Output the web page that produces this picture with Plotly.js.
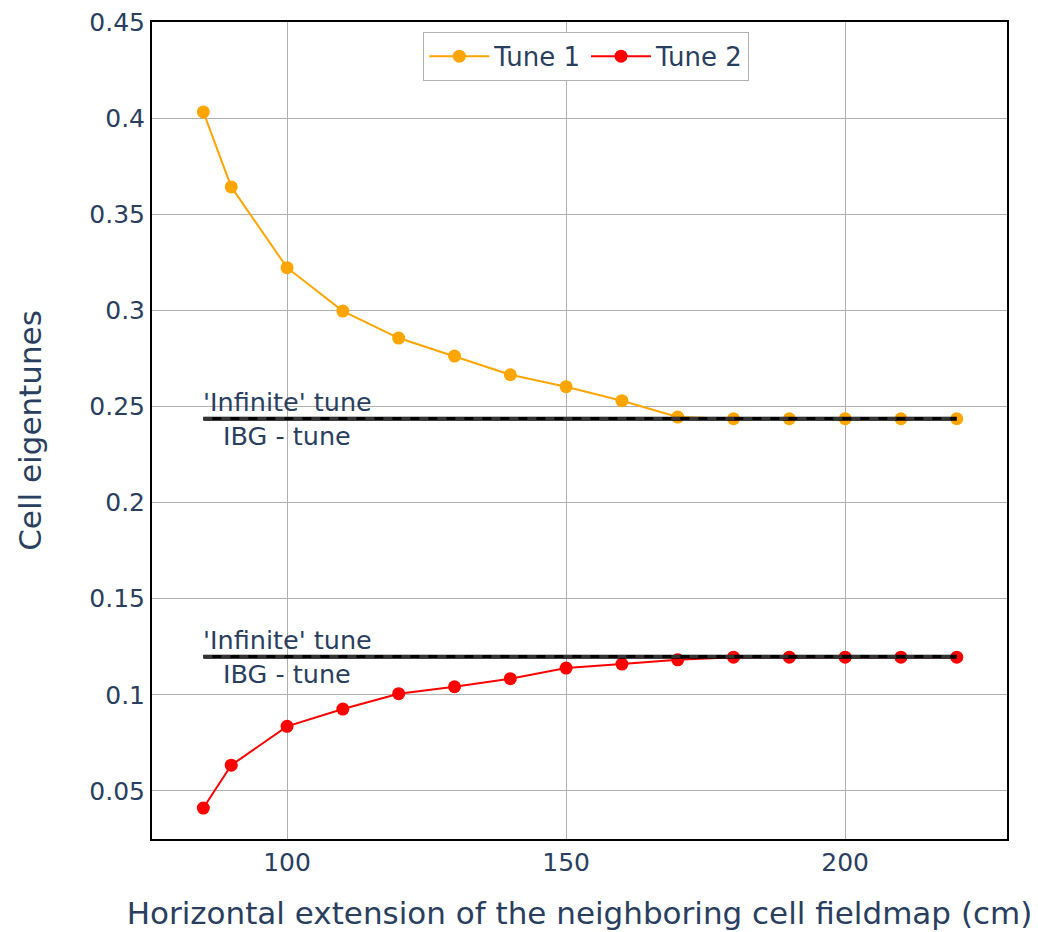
<!DOCTYPE html>
<html>
<head>
<meta charset="utf-8">
<script src="https://cdn.plot.ly/plotly-3.0.1.min.js"></script>
<style>html,body{margin:0;padding:0;background:#fff;}#chart{width:1038px;height:932px;}</style>
</head>
<body>
<div id="chart"></div>
<script>
const extension = [85, 90, 100, 110, 120, 130, 140, 150, 160, 170, 180, 190, 200, 210, 220];
const tune1 = [0.4032, 0.3642, 0.3222, 0.2996, 0.2856, 0.2762, 0.2665, 0.2603, 0.2530, 0.2445, 0.2436, 0.2436, 0.2436, 0.2436, 0.2436];
const tune2 = [0.0411, 0.0634, 0.0836, 0.0926, 0.1006, 0.1042, 0.1084, 0.1139, 0.1160, 0.1182, 0.1196, 0.1196, 0.1196, 0.1196, 0.1196];
const infiniteTune = [0.2436, 0.1198];
const ibgTune = [0.2437, 0.1199];
const lineSpan = [85, 220];
const labelX = 100;

const traces = [
  {x: extension, y: tune1, mode: 'lines+markers', name: 'Tune 1',
   line: {color: 'orange', width: 2}, marker: {color: 'orange', size: 13}},
  {x: extension, y: tune2, mode: 'lines+markers', name: 'Tune 2',
   line: {color: 'red', width: 2}, marker: {color: 'red', size: 13}}
];
const annotations = [];
for (let i = 0; i < infiniteTune.length; i++) {
  traces.push({x: lineSpan, y: [infiniteTune[i], infiniteTune[i]], mode: 'lines', showlegend: false,
    hoverinfo: 'skip', line: {color: 'black', width: 4}});
  traces.push({x: lineSpan, y: [ibgTune[i], ibgTune[i]], mode: 'lines', showlegend: false,
    hoverinfo: 'skip', line: {color: '#333', width: 3, dash: 'dash'}});
  annotations.push({x: labelX, y: infiniteTune[i], text: "'Infinite' tune", showarrow: false,
    xanchor: 'center', yanchor: 'bottom', font: {size: 25.5}});
  annotations.push({x: labelX, y: ibgTune[i], text: 'IBG - tune', showarrow: false,
    xanchor: 'center', yanchor: 'top', font: {size: 25.5}});
}

const layout = {
  width: 1038, height: 932,
  margin: {l: 152, r: 31, t: 22, b: 93},
  paper_bgcolor: 'white', plot_bgcolor: 'white',
  font: {family: 'DejaVu Sans, Verdana, sans-serif', color: '#2a3f5f', size: 26},
  xaxis: {range: [75.8, 229], tickvals: [100, 150, 200], showgrid: true, gridcolor: '#b0b0b0', gridwidth: 1,
    showline: true, linecolor: 'black', linewidth: 2, mirror: true, zeroline: false,
    tickfont: {size: 25}, title: {text: 'Horizontal extension of the neighboring cell fieldmap (cm)', font: {size: 31}, standoff: 26}},
  yaxis: {range: [0.025, 0.45], tickvals: [0.05, 0.1, 0.15, 0.2, 0.25, 0.3, 0.35, 0.4, 0.45],
    ticktext: ['0.05', '0.1', '0.15', '0.2', '0.25', '0.3', '0.35', '0.4', '0.45'],
    showgrid: true, gridcolor: '#b0b0b0', gridwidth: 1,
    showline: true, linecolor: 'black', linewidth: 2, mirror: true, zeroline: false,
    tickfont: {size: 25}, title: {text: 'Cell eigentunes', font: {size: 31}, standoff: 38}},
  legend: {orientation: 'h', x: 0.508, xanchor: 'center', y: 0.988, yanchor: 'top', itemwidth: 60,
    bordercolor: '#b0b0b0', borderwidth: 1, bgcolor: 'white', font: {size: 26}},
  annotations: annotations,
  showlegend: true
};
Plotly.newPlot('chart', traces, layout, {displayModeBar: false});
</script>
</body>
</html>
